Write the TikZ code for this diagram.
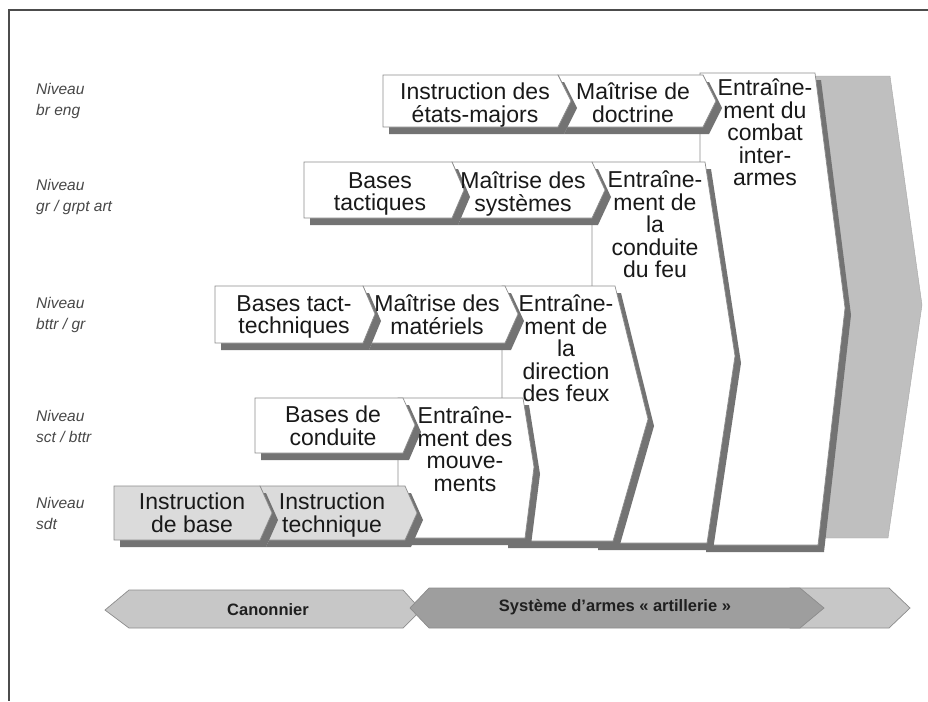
\documentclass[tikz,border=0pt]{standalone}
\usepackage{fontspec}
\setmainfont{Liberation Sans}
\usetikzlibrary{shadows}

\begin{document}
\begin{tikzpicture}[x=1pt,y=-1pt,
    chev/.style={draw=black!45, line width=0.7pt, fill=white,
      drop shadow={shadow xshift=6pt, shadow yshift=-7pt, fill=black!55, opacity=1}},
    chevgray/.style={chev, fill=black!14},
    txt/.style={align=center, anchor=north, inner sep=0pt, text=black!90,
      font=\fontsize{23}{22.5}\selectfont},
    lvl/.style={align=left, anchor=west, inner sep=0pt, text=black!72,
      font=\fontsize{15.5}{21}\selectfont\itshape},
    bar/.style={draw=black!45, line width=0.7pt},
    bartxt/.style={inner sep=0pt, text=black!88, font=\fontsize{16.5}{16.5}\selectfont\bfseries}]
    \useasboundingbox (0,0) rectangle (928,701);
    \draw[black!70, line width=1.2pt] (928,10) -- (9,10) -- (9,701);

    % big grey arrow at the back
    \path[fill=black!25, draw=black!35] (790,76) -- (890,76) -- (922,305) -- (888,538) -- (790,538) -- cycle;

    % niveau br eng
    \path[chev] (700,73) -- (815,73) -- (845,308) -- (818,545) -- (700,545) -- cycle;
    \path[chev] (558,75) -- (703,75) -- (716,101) -- (703,127) -- (558,127) -- (571,101) -- cycle;
    \path[chev] (383,75) -- (558,75) -- (571,101) -- (558,127) -- (383,127) -- cycle;

    % niveau gr / grpt art
    \path[chev] (592,162) -- (705,162) -- (735,356) -- (707,543) -- (592,543) -- cycle;
    \path[chev] (452,162) -- (592,162) -- (605,190) -- (592,218) -- (452,218) -- (464,190) -- cycle;
    \path[chev] (304,162) -- (452,162) -- (464,190) -- (452,218) -- (304,218) -- cycle;

    % niveau bttr / gr
    \path[chev] (502,286) -- (615,286) -- (648,419) -- (613,541) -- (502,541) -- cycle;
    \path[chev] (363,286) -- (505,286) -- (518,314) -- (505,343) -- (363,343) -- (375,314) -- cycle;
    \path[chev] (215,286) -- (363,286) -- (375,314) -- (363,343) -- (215,343) -- cycle;

    % niveau sct / bttr
    \path[chev] (398,398) -- (523,398) -- (534,467) -- (525,538) -- (398,538) -- cycle;
    \path[chev] (255,398) -- (403,398) -- (415,425) -- (403,453) -- (255,453) -- cycle;

    % niveau sdt
    \path[chevgray] (260,486) -- (405,486) -- (417,513) -- (405,540) -- (260,540) -- (272,513) -- cycle;
    \path[chevgray] (114,486) -- (260,486) -- (272,513) -- (260,540) -- (114,540) -- cycle;

    % texts
    \node[txt] (etatsmajors) at (475,83) {Instruction des\\états-majors};
    \node[txt] (doctrine) at (633,83) {Maîtrise de\\doctrine};
    \node[txt] (combat) at (765,79) {Entraîne-\\ment du\\combat\\inter-\\armes};
    \node[txt] (tactiques) at (380,172) {Bases\\tactiques};
    \node[txt] (systemes) at (523,172) {Maîtrise des\\systèmes};
    \node[txt] (conduitefeu) at (655,171) {Entraîne-\\ment de\\la\\conduite\\du feu};
    \node[txt] (tacttech) at (294,295) {Bases tact-\\techniques};
    \node[txt] (materiels) at (437,295) {Maîtrise des\\matériels};
    \node[txt] (directionfeux) at (566,295) {Entraîne-\\ment de\\la\\direction\\des feux};
    \node[txt] (conduite) at (333,406) {Bases de\\conduite};
    \node[txt] (mouvements) at (465,407) {Entraîne-\\ment des\\mouve-\\ments};
    \node[txt] (base) at (192,493) {Instruction\\de base};
    \node[txt] (technique) at (332,493) {Instruction\\technique};

    % niveaux
    \node[lvl] (nivbreng) at (36,101) {Niveau\\br eng};
    \node[lvl] (nivgr) at (36,197) {Niveau\\gr / grpt art};
    \node[lvl] (nivbttr) at (36,315) {Niveau\\bttr / gr};
    \node[lvl] (nivsct) at (36,426) {Niveau\\sct / bttr};
    \node[lvl] (nivsdt) at (36,513) {Niveau\\sdt};

    % bandeau du bas
    \path[bar, fill=black!22] (105,610) -- (129,590) -- (403,590) -- (421,610) -- (403,628) -- (129,628) -- cycle;
    \path[bar, fill=black!22] (790,588) -- (889,588) -- (910,608) -- (889,628) -- (790,628) -- cycle;
    \path[bar, fill=black!38] (410,608) -- (429,588) -- (800,588) -- (824,608) -- (800,628) -- (429,628) -- cycle;
    \node[bartxt] (canonnier) at (268,610) {Canonnier};
    \node[bartxt] (systeme) at (615,607) {Système d'armes « artillerie »};
\end{tikzpicture}
\end{document}
